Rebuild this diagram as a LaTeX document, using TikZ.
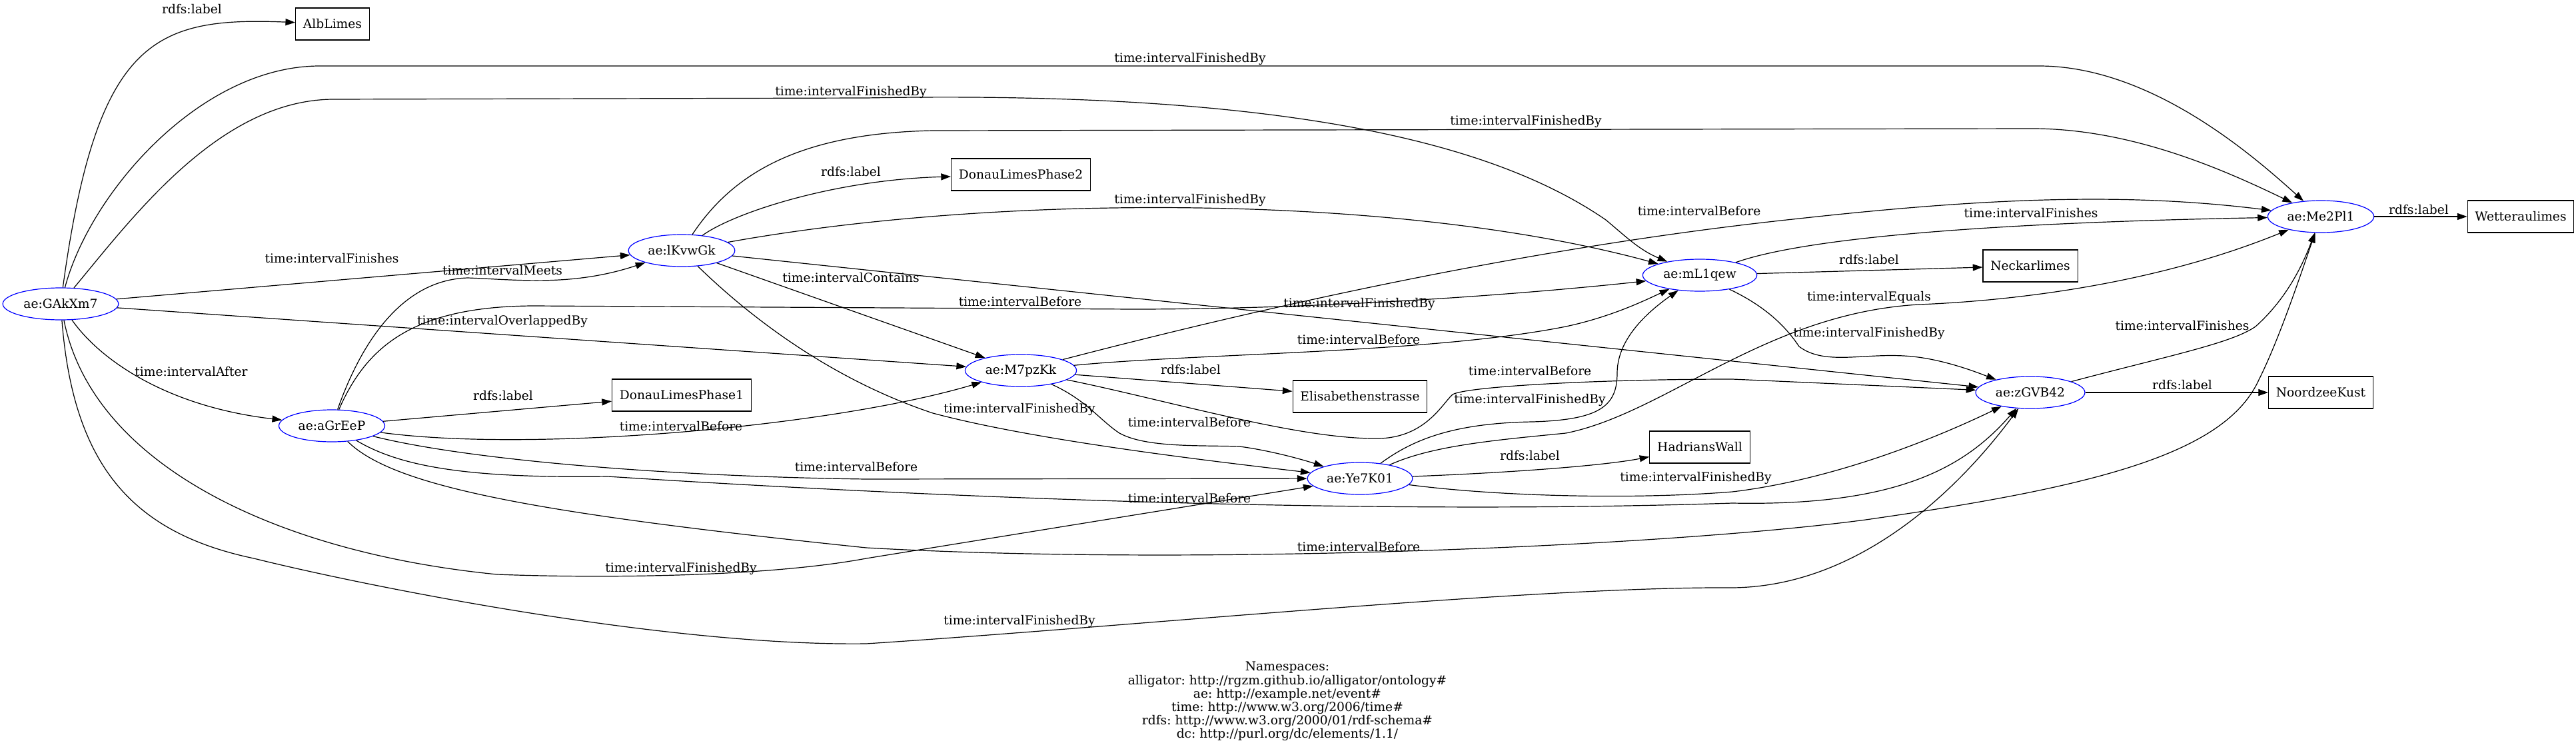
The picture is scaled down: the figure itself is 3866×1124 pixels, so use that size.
\documentclass[tikz,border=0pt]{standalone}
\usepackage{fontspec}
\setmainfont{DejaVu Serif}
\usepackage{tikz}
\usetikzlibrary{arrows.meta, shapes.geometric}
\definecolor{entblue}{HTML}{0000FF}
\frenchspacing

\begin{document}
\begin{tikzpicture}[x=0.75pt, y=-0.75pt,
    every node/.style={font=\fontsize{14}{15}\selectfont},
    ent/.style={ellipse, draw=entblue, line width=0.9pt, inner xsep=4.4pt, inner ysep=0pt, minimum height=36pt},
    lit/.style={rectangle, draw=black, line width=0.8pt, inner xsep=8.5pt, inner ysep=0pt, minimum height=36pt},
    rel/.style={-{Triangle[length=11pt, width=7.5pt]}, line width=0.9pt},
    lbl/.style={inner sep=0pt}]
  \useasboundingbox (0,0) rectangle (3866,1124);

  \node[ent] (GAkXm7) at (91,456) {ae:GAkXm7};
  \node[lit] (AlbLimes) at (499,36) {AlbLimes};
  \node[ent] (lKvwGk) at (1023,376) {ae:lKvwGk};
  \node[ent] (aGrEeP) at (498,639) {ae:aGrEeP};
  \node[lit] (DLPhase1) at (1023,593) {DonauLimesPhase1};
  \node[lit] (DLPhase2) at (1532,262) {DonauLimesPhase2};
  \node[ent] (M7pzKk) at (1532,556) {ae:M7pzKk};
  \node[lit] (Elisabeth) at (2041,595) {Elisabethenstrasse};
  \node[ent] (Ye7K01) at (2041,718) {ae:Ye7K01};
  \node[lit] (Hadrian) at (2551,671) {HadriansWall};
  \node[ent] (mL1qew) at (2551,413) {ae:mL1qew};
  \node[lit] (Neckar) at (3047,399) {Neckarlimes};
  \node[ent] (zGVB42) at (3047,589) {ae:zGVB42};
  \node[lit] (Noordzee) at (3483,589) {NoordzeeKust};
  \node[ent] (Me2Pl1) at (3483,325) {ae:Me2Pl1};
  \node[lit] (Wetterau) at (3783,325) {Wetteraulimes};

  \draw[rel] (GAkXm7) .. controls (145,60) and (230,25) .. (AlbLimes)
    node[lbl] at (288,14) {rdfs:label};
  \draw[rel] (GAkXm7) .. controls (135,290) and (300,99) .. (480,99) -- (3060,99)
    .. controls (3230,99) and (3385,237) .. (Me2Pl1)
    node[lbl] at (1786,88) {time:intervalFinishedBy};
  \draw[rel] (GAkXm7) .. controls (200,325) and (330,150) .. (500,149) -- (1300,147)
    .. controls (1950,135) and (2250,220) .. (2410,330)
    .. controls (2440,355) and (2460,375) .. (mL1qew)
    node[lbl] at (1277,138) {time:intervalFinishedBy};
  \draw[rel] (GAkXm7) -- (lKvwGk) node[lbl] at (498,388) {time:intervalFinishes};
  \draw[rel] (GAkXm7) -- (M7pzKk) node[lbl] at (754,482) {time:intervalOverlappedBy};
  \draw[rel] (GAkXm7) .. controls (150,540) and (250,610) .. (aGrEeP)
    node[lbl] at (287,558) {time:intervalAfter};
  \draw[rel] (GAkXm7) .. controls (140,700) and (420,830) .. (746,862)
    .. controls (900,868) and (1150,866) .. (1300,838) -- (Ye7K01)
    node[lbl] at (1022,853) {time:intervalFinishedBy};
  \draw[rel] (GAkXm7) .. controls (110,700) and (200,800) .. (381,838)
    .. controls (550,880) and (1000,970) .. (1300,966)
    .. controls (1700,940) and (2300,880) .. (2600,882)
    .. controls (2800,880) and (2950,720) .. (zGVB42)
    node[lbl] at (1530,932) {time:intervalFinishedBy};

  \draw[rel] (lKvwGk) .. controls (1100,260) and (1200,200) .. (1400,196) -- (3050,193)
    .. controls (3200,193) and (3340,256) .. (Me2Pl1)
    node[lbl] at (2290,182) {time:intervalFinishedBy};
  \draw[rel] (lKvwGk) .. controls (1100,320) and (1250,270) .. (DLPhase2)
    node[lbl] at (1277,258) {rdfs:label};
  \draw[rel] (lKvwGk) .. controls (1500,290) and (2100,290) .. (mL1qew)
    node[lbl] at (1786,300) {time:intervalFinishedBy};
  \draw[rel] (lKvwGk) -- (M7pzKk) node[lbl] at (1277,417) {time:intervalContains};
  \draw[rel] (lKvwGk) -- (zGVB42) node[lbl] at (2040,456) {time:intervalFinishedBy};
  \draw[rel] (lKvwGk) .. controls (1130,480) and (1250,570) .. (1400,620)
    .. controls (1550,660) and (1800,690) .. (Ye7K01)
    node[lbl] at (1530,614) {time:intervalFinishedBy};

  \draw[rel] (aGrEeP) .. controls (540,520) and (600,420) .. (702,417)
    .. controls (780,420) and (860,430) .. (lKvwGk)
    node[lbl] at (754,406) {time:intervalMeets};
  \draw[rel] (aGrEeP) .. controls (550,520) and (620,460) .. (800,459) -- (1700,464)
    .. controls (2000,464) and (2300,440) .. (mL1qew)
    node[lbl] at (1531,453) {time:intervalBefore};
  \draw[rel] (aGrEeP) -- (DLPhase1) node[lbl] at (755,594) {rdfs:label};
  \draw[rel] (aGrEeP) .. controls (800,680) and (1250,640) .. (M7pzKk)
    node[lbl] at (1022,640) {time:intervalBefore};
  \draw[rel] (aGrEeP) .. controls (700,690) and (1000,715) .. (1300,719) -- (Ye7K01)
    node[lbl] at (1285,701) {time:intervalBefore};
  \draw[rel] (aGrEeP) .. controls (600,700) and (700,718) .. (912,715)
    .. controls (1300,740) and (2000,775) .. (2600,755)
    .. controls (2850,760) and (2950,700) .. (zGVB42)
    node[lbl] at (1785,748) {time:intervalBefore};
  \draw[rel] (aGrEeP) .. controls (590,730) and (800,770) .. (1300,822)
    .. controls (1800,850) and (2500,820) .. (2800,780)
    .. controls (3150,730) and (3340,680) .. (3390,570)
    .. controls (3420,510) and (3450,420) .. (Me2Pl1)
    node[lbl] at (2039,821) {time:intervalBefore};

  \draw[rel] (M7pzKk) .. controls (1900,460) and (2300,370) .. (2700,328)
    .. controls (3000,295) and (3200,290) .. (Me2Pl1)
    node[lbl] at (2550,317) {time:intervalBefore};
  \draw[rel] (M7pzKk) .. controls (1800,530) and (2150,530) .. (2350,490)
    .. controls (2420,475) and (2470,450) .. (mL1qew)
    node[lbl] at (2039,510) {time:intervalBefore};
  \draw[rel] (M7pzKk) -- (Elisabeth) node[lbl] at (1787,555) {rdfs:label};
  \draw[rel] (M7pzKk) .. controls (1750,600) and (1950,660) .. (2070,658)
    .. controls (2140,656) and (2165,605) .. (2180,592)
    .. controls (2200,580) and (2400,569) .. (2600,569) -- (zGVB42)
    node[lbl] at (2296,557) {time:intervalBefore};
  \draw[rel] (M7pzKk) .. controls (1630,600) and (1650,630) .. (1680,650)
    .. controls (1720,672) and (1800,668) .. (1860,670)
    .. controls (1900,675) and (1950,688) .. (Ye7K01)
    node[lbl] at (1785,634) {time:intervalBefore};

  \draw[rel] (mL1qew) .. controls (2700,360) and (2950,335) .. (Me2Pl1)
    node[lbl] at (3048,320) {time:intervalFinishes};
  \draw[rel] (mL1qew) -- (Neckar) node[lbl] at (2805,390) {rdfs:label};
  \draw[rel] (mL1qew) .. controls (2650,460) and (2680,490) .. (2700,520)
    .. controls (2740,550) and (2800,528) .. (2870,535)
    .. controls (2920,540) and (2970,560) .. (zGVB42)
    node[lbl] at (2805,500) {time:intervalFinishedBy};

  \draw[rel] (Ye7K01) .. controls (2120,660) and (2180,635) .. (2300,633)
    .. controls (2400,630) and (2427,610) .. (2427,560)
    .. controls (2427,510) and (2470,470) .. (mL1qew)
    node[lbl] at (2296,600) {time:intervalFinishedBy};
  \draw[rel] (Ye7K01) .. controls (2150,668) and (2250,660) .. (2350,650)
    .. controls (2500,620) and (2650,470) .. (2880,457)
    .. controls (3050,450) and (3250,420) .. (Me2Pl1)
    node[lbl] at (2805,446) {time:intervalEquals};
  \draw[rel] (Ye7K01) .. controls (2250,710) and (2400,700) .. (Hadrian)
    node[lbl] at (2296,684) {rdfs:label};
  \draw[rel] (Ye7K01) .. controls (2250,745) and (2450,750) .. (2600,738)
    .. controls (2750,720) and (2900,660) .. (zGVB42)
    node[lbl] at (2545,717) {time:intervalFinishedBy};

  \draw[rel] (zGVB42) .. controls (3250,535) and (3350,515) .. (3385,490)
    .. controls (3430,450) and (3455,400) .. (Me2Pl1)
    node[lbl] at (3275,489) {time:intervalFinishes};
  \draw[rel] (zGVB42) -- (Noordzee) node[lbl] at (3275,578) {rdfs:label};
  \draw[rel] (Me2Pl1) -- (Wetterau) node[lbl] at (3630,315) {rdfs:label};

  \foreach[count=\i from 0] \txt in {%
    Namespaces:,
    alligator: http://rgzm.github.io/alligator/ontology\#,
    ae: http://example.net/event\#,
    time: http://www.w3.org/2006/time\#,
    rdfs: http://www.w3.org/2000/01/rdf-schema\#,
    dc: http://purl.org/dc/elements/1.1/
    } {
    \node[lbl] (ns\i) at (1932, 1002+20.1*\i) {\txt};
  }
\end{tikzpicture}
\end{document}
